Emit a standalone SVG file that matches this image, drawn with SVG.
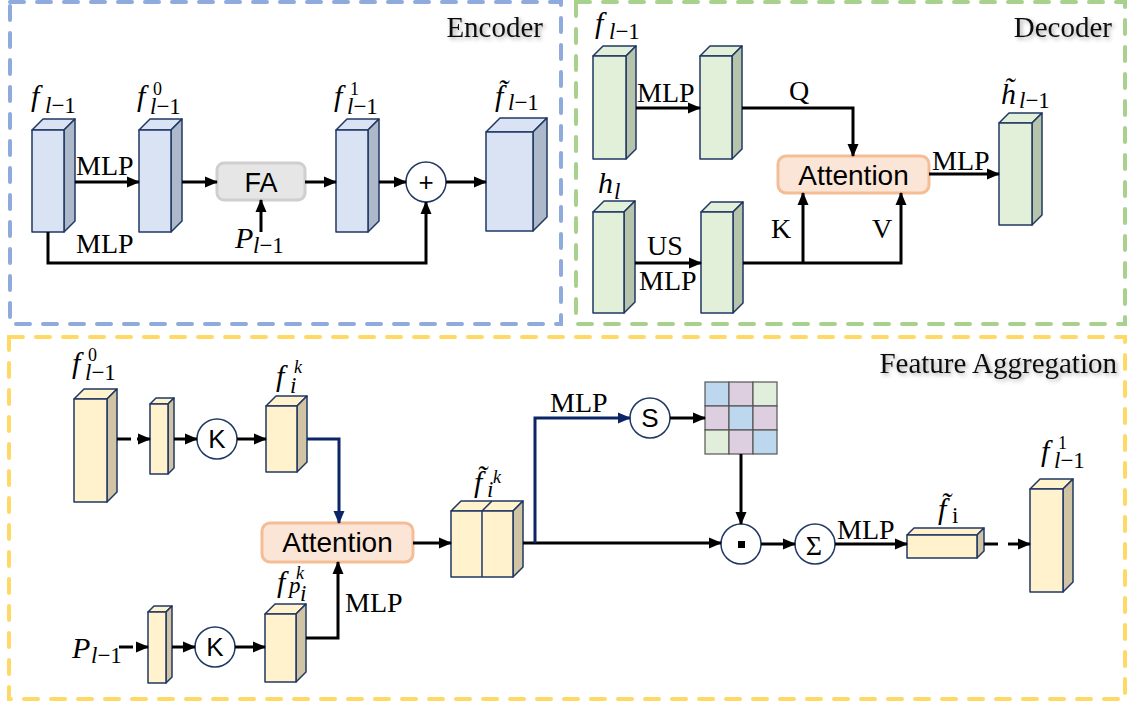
<svg xmlns="http://www.w3.org/2000/svg" width="1128" height="706" viewBox="0 0 1128 706">
  <defs>
    <marker id="ah" markerWidth="13" markerHeight="12" refX="12" refY="6" orient="auto" markerUnits="userSpaceOnUse">
      <path d="M0,0.5 L13,6 L0,11.5 z" fill="#000"/>
    </marker>
    <marker id="ahn" markerWidth="13" markerHeight="12" refX="12" refY="6" orient="auto" markerUnits="userSpaceOnUse">
      <path d="M0,0.5 L13,6 L0,11.5 z" fill="#0B2566"/>
    </marker>
    <filter id="halo" x="-10%" y="-40%" width="125%" height="190%">
      <feGaussianBlur in="SourceAlpha" stdDeviation="2.2"/>
      <feOffset dx="2" dy="2" result="b"/>
      <feFlood flood-color="#000" flood-opacity="0.35"/>
      <feComposite in2="b" operator="in"/>
      <feMerge><feMergeNode/><feMergeNode in="SourceGraphic"/></feMerge>
    </filter>
    <style>
      .panel { fill: none; stroke-width: 4; stroke-dasharray: 14 13; stroke-linecap: round; }
      .title { font-family: "Liberation Serif", serif; font-size: 29px; fill: #111; text-anchor: end; }
      .lbl { font-family: "Liberation Serif", serif; font-size: 28px; fill: #000; }
      .sans { font-family: "Liberation Sans", Arial, sans-serif; fill: #000; text-anchor: middle; }
      .m { font-family: "Liberation Serif", serif; font-size: 30px; font-style: italic; fill: #000; stroke: none; }
      .sub { font-size: 23px; font-style: normal; }
      .sup { font-size: 18px; font-style: normal; }
      .it { font-style: italic; }
      .edge { fill: none; stroke: #000; stroke-width: 3; }
      .edge-a { fill: none; stroke: #000; stroke-width: 3; marker-end: url(#ah); }
      .navy-a { fill: none; stroke: #0B2566; stroke-width: 3; marker-end: url(#ahn); }
      .bx { stroke: #203864; stroke-width: 1.5; stroke-linejoin: round; }
      .blue .fr, .blue .tp { fill: #DAE3F3; } .blue .sd { fill: #ADB9CA; }
      .green .fr, .green .tp { fill: #E2F0D9; } .green .sd { fill: #B5C4AA; }
      .yel .fr, .yel .tp { fill: #FFF2CC; } .yel .sd { fill: #D0C4A4; }
      .op { fill: #fff; stroke: #203864; stroke-width: 1.5; }
      .att { fill: #FBE5D6; stroke: #F5BD96; stroke-width: 3; }
      .fa { fill: #E7E6E6; stroke: #D0CECE; stroke-width: 3; }
      .cell { stroke: #555; stroke-width: 1.2; }
    </style>
  </defs>

  <!-- panels -->
  <g id="panels">
    <rect class="panel" x="10" y="2" width="551" height="322" stroke="#8FAADC"/>
    <rect class="panel" x="576" y="2" width="549" height="322" stroke="#A9D18E"/>
    <rect class="panel" x="9" y="337" width="1116" height="362" stroke="#FFD966"/>
    <text class="title" x="543" y="37" filter="url(#halo)">Encoder</text>
    <text class="title" x="1112" y="37" filter="url(#halo)">Decoder</text>
    <text class="title" x="1117" y="373" filter="url(#halo)">Feature Aggregation</text>
  </g>

  <!-- ============ Encoder ============ -->
  <g id="enc-f" class="blue bx">
    <polygon class="tp" points="32,130 43,119 75,119 64,130"/>
    <polygon class="sd" points="64,130 75,119 75,221 64,232"/>
    <rect class="fr" x="32" y="130" width="32" height="102"/>
    <text class="m" x="31" y="106">f<tspan class="sub" x="45" y="113"><tspan class="it">l</tspan>−1</tspan></text>
  </g>
  <g id="enc-f0" class="blue bx">
    <polygon class="tp" points="139,130 150,119 182,119 171,130"/>
    <polygon class="sd" points="171,130 182,119 182,221 171,232"/>
    <rect class="fr" x="139" y="130" width="32" height="102"/>
    <text class="m" x="137" y="106">f<tspan class="sup" x="153" y="95">0</tspan><tspan class="sub" x="150" y="114"><tspan class="it">l</tspan>−1</tspan></text>
  </g>
  <g id="enc-fa">
    <rect class="fa" x="217" y="163" width="88" height="37" rx="7"/>
    <text class="sans" x="261" y="192" font-size="27">FA</text>
  </g>
  <g id="enc-p">
    <text class="m" x="235" y="248">P<tspan class="sub" x="253" y="253"><tspan class="it">l</tspan>−1</tspan></text>
  </g>
  <g id="enc-f1" class="blue bx">
    <polygon class="tp" points="336,130 347,119 379,119 368,130"/>
    <polygon class="sd" points="368,130 379,119 379,221 368,232"/>
    <rect class="fr" x="336" y="130" width="32" height="102"/>
    <text class="m" x="334" y="106">f<tspan class="sup" x="350" y="95">1</tspan><tspan class="sub" x="347" y="114"><tspan class="it">l</tspan>−1</tspan></text>
  </g>
  <g id="enc-add">
    <circle class="op" cx="426" cy="182" r="20"/>
    <text class="sans" x="426" y="191" font-size="26">+</text>
  </g>
  <g id="enc-out" class="blue bx">
    <polygon class="tp" points="486,132 500,118 547,118 533,132"/>
    <polygon class="sd" points="533,132 547,118 547,217 533,231"/>
    <rect class="fr" x="486" y="132" width="47" height="99"/>
    <text class="m" x="495" y="106">f̃<tspan class="sub" x="508" y="110"><tspan class="it">l</tspan>−1</tspan></text>
  </g>

  <!-- ============ Decoder ============ -->
  <g id="dec-f" class="green bx">
    <polygon class="tp" points="593,56 603,46 636,46 626,56"/>
    <polygon class="sd" points="626,56 636,46 636,149 626,159"/>
    <rect class="fr" x="593" y="56" width="33" height="103"/>
    <text class="m" x="595" y="33">f<tspan class="sub" x="609" y="39"><tspan class="it">l</tspan>−1</tspan></text>
  </g>
  <g id="dec-q" class="green bx">
    <polygon class="tp" points="700,56 710,46 742,46 732,56"/>
    <polygon class="sd" points="732,56 742,46 742,149 732,159"/>
    <rect class="fr" x="700" y="56" width="32" height="103"/>
  </g>
  <g id="dec-h" class="green bx">
    <polygon class="tp" points="593,212 604,201 635,201 624,212"/>
    <polygon class="sd" points="624,212 635,201 635,302 624,313"/>
    <rect class="fr" x="593" y="212" width="31" height="101"/>
    <text class="m" x="598" y="193">h<tspan class="sub it" x="614" y="199">l</tspan></text>
  </g>
  <g id="dec-kv" class="green bx">
    <polygon class="tp" points="701,212 711,202 743,202 733,212"/>
    <polygon class="sd" points="733,212 743,202 743,303 733,313"/>
    <rect class="fr" x="701" y="212" width="32" height="101"/>
  </g>
  <g id="dec-att">
    <rect class="att" x="778" y="156" width="151" height="37" rx="8"/>
    <text class="sans" x="853.5" y="185" font-size="28">Attention</text>
  </g>
  <g id="dec-out" class="green bx">
    <polygon class="tp" points="999,123 1009,113 1042,113 1032,123"/>
    <polygon class="sd" points="1032,123 1042,113 1042,215 1032,225"/>
    <rect class="fr" x="999" y="123" width="33" height="102"/>
    <text class="m" x="1001" y="104">h̃<tspan class="sub" x="1019" y="108"><tspan class="it">l</tspan>−1</tspan></text>
  </g>

  <!-- ============ Feature Aggregation ============ -->
  <g id="fa-f0" class="yel bx">
    <polygon class="tp" points="74,399 84,389 117,389 107,399"/>
    <polygon class="sd" points="107,399 117,389 117,492 107,502"/>
    <rect class="fr" x="74" y="399" width="33" height="103"/>
    <text class="m" x="72" y="373">f<tspan class="sup" x="88" y="361">0</tspan><tspan class="sub" x="85" y="380"><tspan class="it">l</tspan>−1</tspan></text>
  </g>
  <g id="fa-s1" class="yel bx">
    <polygon class="tp" points="150,404 156,398 174,398 168,404"/>
    <polygon class="sd" points="168,404 174,398 174,468 168,474"/>
    <rect class="fr" x="150" y="404" width="18" height="70"/>
  </g>
  <g id="fa-k1">
    <circle class="op" cx="217" cy="439" r="20"/>
    <text class="sans" x="217" y="448" font-size="26">K</text>
  </g>
  <g id="fa-fk" class="yel bx">
    <polygon class="tp" points="266,406 276,396 307,396 297,406"/>
    <polygon class="sd" points="297,406 307,396 307,462 297,472"/>
    <rect class="fr" x="266" y="406" width="31" height="66"/>
    <text class="m" x="276" y="386">f<tspan class="sup it" x="294" y="373">k</tspan><tspan class="sub it" x="290" y="393">i</tspan></text>
  </g>
  <g id="fa-p">
    <text class="m" x="72" y="658">P<tspan class="sub" x="91" y="663" font-size="20"><tspan class="it">l</tspan>−1</tspan></text>
  </g>
  <g id="fa-s2" class="yel bx">
    <polygon class="tp" points="148,612 154,606 172,606 166,612"/>
    <polygon class="sd" points="166,612 172,606 172,677 166,683"/>
    <rect class="fr" x="148" y="612" width="18" height="71"/>
  </g>
  <g id="fa-k2">
    <circle class="op" cx="215" cy="647" r="20"/>
    <text class="sans" x="215" y="656" font-size="26">K</text>
  </g>
  <g id="fa-fp" class="yel bx">
    <polygon class="tp" points="265,614 275,604 306,604 296,614"/>
    <polygon class="sd" points="296,614 306,604 306,672 296,682"/>
    <rect class="fr" x="265" y="614" width="31" height="68"/>
    <text class="m" x="277" y="592">f<tspan class="sup it" x="296" y="579">k</tspan><tspan class="sub it" x="289" y="593" font-size="19">p</tspan><tspan class="sub it" x="300" y="601" font-size="14">i</tspan></text>
  </g>
  <g id="fa-att">
    <rect class="att" x="262" y="523" width="151" height="39" rx="8"/>
    <text class="sans" x="337.5" y="552" font-size="28">Attention</text>
  </g>
  <g id="fa-fkt" class="yel bx">
    <polygon class="tp" points="451,511 461,501 523,501 513,511"/>
    <polygon class="sd" points="513,511 523,501 523,567 513,577"/>
    <rect class="fr" x="451" y="511" width="62" height="66"/>
    <path d="M482,511 V577 M482,511 L492,501" fill="none"/>
    <text class="m" x="474" y="492" font-size="28">f̃<tspan class="sup it" x="493" y="483">k</tspan><tspan class="sub it" x="487" y="497">i</tspan></text>
  </g>
  <g id="fa-s">
    <circle class="op" cx="650" cy="418" r="20"/>
    <text class="sans" x="650" y="427" font-size="26">S</text>
  </g>
  <g id="fa-grid">
    <rect class="cell" x="705" y="382" width="24" height="24" fill="#BDD7EE"/>
    <rect class="cell" x="729" y="382" width="24" height="24" fill="#DDCFE0"/>
    <rect class="cell" x="753" y="382" width="24" height="24" fill="#E2EEDC"/>
    <rect class="cell" x="705" y="406" width="24" height="24" fill="#DDCFE0"/>
    <rect class="cell" x="729" y="406" width="24" height="24" fill="#BDD7EE"/>
    <rect class="cell" x="753" y="406" width="24" height="24" fill="#DDCFE0"/>
    <rect class="cell" x="705" y="430" width="24" height="24" fill="#E2EEDC"/>
    <rect class="cell" x="729" y="430" width="24" height="24" fill="#DDCFE0"/>
    <rect class="cell" x="753" y="430" width="24" height="24" fill="#BDD7EE"/>
  </g>
  <g id="fa-mul">
    <circle class="op" cx="741" cy="544" r="20"/>
    <rect x="738" y="541" width="7" height="7" fill="#000"/>
  </g>
  <g id="fa-sum">
    <circle class="op" cx="815" cy="544" r="20"/>
    <text class="lbl" x="814" y="555" font-size="25" text-anchor="middle">Σ</text>
  </g>
  <g id="fa-fi" class="yel bx">
    <polygon class="tp" points="907,535 914,528 984,528 977,535"/>
    <polygon class="sd" points="977,535 984,528 984,551 977,558"/>
    <rect class="fr" x="907" y="535" width="70" height="23"/>
    <text class="m" x="938" y="519" font-size="28">f̃<tspan class="sub" x="952" y="523">i</tspan></text>
  </g>
  <g id="fa-f1" class="yel bx">
    <polygon class="tp" points="1030,489 1040,479 1073,479 1063,489"/>
    <polygon class="sd" points="1063,489 1073,479 1073,582 1063,592"/>
    <rect class="fr" x="1030" y="489" width="33" height="103"/>
    <text class="m" x="1041" y="461">f<tspan class="sup" x="1058" y="449">1</tspan><tspan class="sub" x="1054" y="468"><tspan class="it">l</tspan>−1</tspan></text>
  </g>

  <!-- ============ connectors ============ -->
  <g id="connectors">
    <!-- encoder -->
    <path class="edge-a" d="M75,182 H139"/>
    <path class="edge-a" d="M182,182 H217"/>
    <path class="edge-a" d="M261,232 V200"/>
    <path class="edge-a" d="M305,182 H336"/>
    <path class="edge-a" d="M379,182 H406"/>
    <path class="edge-a" d="M446,182 H486"/>
    <path class="edge-a" d="M48,232 V263 H426 V202"/>
    <text class="lbl" x="76" y="175">MLP</text>
    <text class="lbl" x="76" y="253">MLP</text>

    <!-- decoder -->
    <path class="edge-a" d="M636,108 H700"/>
    <path class="edge-a" d="M742,108 H853 V156"/>
    <path class="edge-a" d="M635,263 H701"/>
    <path class="edge-a" d="M743,263 H901 V193"/>
    <path class="edge-a" d="M803,263 V193"/>
    <path class="edge-a" d="M929,174 H999"/>
    <text class="lbl" x="637" y="102">MLP</text>
    <text class="lbl" x="789" y="100">Q</text>
    <text class="lbl" x="647" y="255">US</text>
    <text class="lbl" x="639" y="290">MLP</text>
    <text class="lbl" x="771" y="238">K</text>
    <text class="lbl" x="872" y="238">V</text>
    <text class="lbl" x="932" y="170">MLP</text>

    <!-- feature aggregation -->
    <path class="edge" d="M117,439 H131"/>
    <path class="edge-a" d="M137,439 H150"/>
    <path class="edge-a" d="M174,439 H197"/>
    <path class="edge-a" d="M237,439 H266"/>
    <path class="navy-a" d="M307,439 H339 V523"/>
    <path class="edge" d="M119,647 H133"/>
    <path class="edge-a" d="M136,647 H148"/>
    <path class="edge-a" d="M172,647 H195"/>
    <path class="edge-a" d="M235,647 H265"/>
    <path class="edge-a" d="M306,638 H338 V562"/>
    <path class="edge-a" d="M413,543 H451"/>
    <path class="edge-a" d="M523,543 H721"/>
    <path class="navy-a" d="M535,543 V418 H630"/>
    <path class="edge-a" d="M670,418 H705"/>
    <path class="edge-a" d="M741,454 V524"/>
    <path class="edge-a" d="M761,544 H795"/>
    <path class="edge-a" d="M835,544 H907"/>
    <path class="edge" d="M984,544 H998"/>
    <path class="edge-a" d="M1008,544 H1030"/>
    <text class="lbl" x="345" y="612">MLP</text>
    <text class="lbl" x="550" y="412">MLP</text>
    <text class="lbl" x="837" y="539">MLP</text>
  </g>
</svg>
